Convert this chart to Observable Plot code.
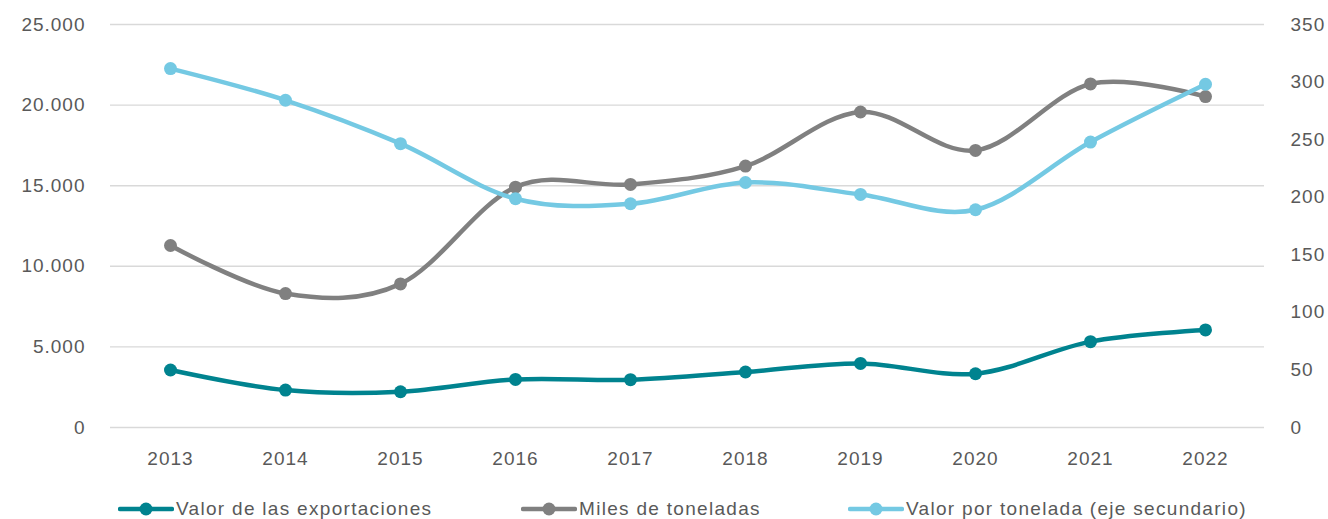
<!DOCTYPE html>
<html>
<head>
<meta charset="utf-8">
<script src="https://cdn.jsdelivr.net/npm/d3@7"></script>
<script src="https://cdn.jsdelivr.net/npm/@observablehq/plot@0.6"></script>
<style>
  html, body { margin: 0; padding: 0; background: #fff; }
  #chart svg { display: block; }
  #legend { position: relative; width: 1328px; height: 39px; font-family: "Liberation Sans", Arial, sans-serif; font-size: 19px; letter-spacing: 1.3px; color: #595959; }
  .item { position: absolute; top: 16px; display: flex; align-items: center; height: 26px; white-space: nowrap; }
  .item svg { display: block; margin-right: 2px; }
</style>
</head>
<body>
<div id="chart"></div>
<div id="legend"></div>
<script>
const years = ["2013","2014","2015","2016","2017","2018","2019","2020","2021","2022"];
const valorExportaciones = [3566, 2324, 2218, 2982, 2964, 3442, 3976, 3336, 5325, 6051];
const milesToneladas = [11289, 8307, 8909, 14911, 15079, 16216, 19571, 17191, 21311, 20527];
const valorPorTonelada = [311.7, 284.2, 246.5, 198.7, 194.3, 212.8, 202.4, 189.1, 247.9, 298.1];
const leftTicks = [0, 5000, 10000, 15000, 20000, 25000];
const rightTicks = [0, 50, 100, 150, 200, 250, 300, 350];
const seriesNames = ["Valor de las exportaciones", "Miles de toneladas", "Valor por tonelada (eje secundario)"];
const seriesColors = ["#00838f", "#808080", "#74c9e3"];

const sec = d3.scaleLinear([0, 350], [0, 25000]);
const fmtLeft = d3.formatLocale({decimal: ",", thousands: ".", grouping: [3]}).format(",");

const data = [];
years.forEach((y, i) => {
  data.push({year: y, value: valorExportaciones[i], series: seriesNames[0]});
  data.push({year: y, value: milesToneladas[i], series: seriesNames[1]});
  data.push({year: y, value: sec(valorPorTonelada[i]), series: seriesNames[2]});
});

const curve = d3.curveCardinal.tension(0);
const seriesMarks = seriesNames.flatMap((name, k) => {
  const d = data.filter(r => r.series === name);
  return [
    Plot.line(d, {x: "year", y: "value", stroke: seriesColors[k], strokeWidth: 4.5, curve}),
    Plot.dot(d, {x: "year", y: "value", fill: seriesColors[k], r: 6.5, stroke: "none"})
  ];
});

const chart = Plot.plot({
  width: 1328,
  height: 480,
  marginTop: 24,
  marginBottom: 53,
  marginLeft: 110,
  marginRight: 64,
  x: {type: "point", domain: years, padding: 0.5},
  y: {domain: [0, 25000]},
  style: {fontFamily: "Liberation Sans, Arial, sans-serif", fontSize: "19px", color: "#595959", letterSpacing: "1px", background: "#fff"},
  marks: [
    Plot.gridY({ticks: leftTicks, stroke: "#d9d9d9", strokeOpacity: 1, strokeWidth: 1.4}),
    Plot.axisY({ticks: leftTicks, tickSize: 0, tickPadding: 25, tickFormat: fmtLeft, label: null, fill: "#595959"}),
    Plot.axisY({anchor: "right", ticks: rightTicks.map(sec), tickSize: 0, tickPadding: 26, tickFormat: d => String(Math.round(sec.invert(d))), label: null, fill: "#595959", textAnchor: "start"}),
    Plot.axisX({tickSize: 0, tickPadding: 24, label: null, fill: "#595959"}),
    ...seriesMarks
  ]
});
document.getElementById("chart").appendChild(chart);

const legendLefts = [118, 521, 848];
const legend = document.getElementById("legend");
seriesNames.forEach((name, k) => {
  const item = document.createElement("div");
  item.className = "item";
  item.style.left = legendLefts[k] + "px";
  item.innerHTML = `<svg width="56" height="16"><line x1="2" y1="8" x2="54" y2="8" stroke="${seriesColors[k]}" stroke-width="4.5" stroke-linecap="round"/><circle cx="28" cy="8" r="6.5" fill="${seriesColors[k]}"/></svg><span>${name}</span>`;
  legend.appendChild(item);
});
</script>
</body>
</html>
